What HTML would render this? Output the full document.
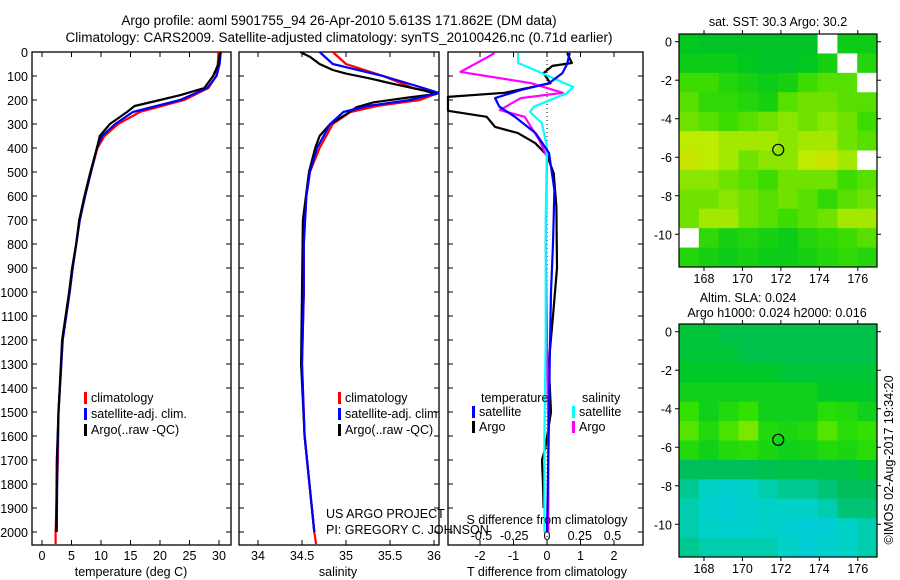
<!DOCTYPE html>
<html><head><meta charset="utf-8">
<style>
html,body{margin:0;padding:0;background:#fff;}
svg{display:block;font-family:"Liberation Sans",sans-serif;}
</style></head>
<body>
<svg id="fig" width="900" height="580" viewBox="0 0 900 580" xmlns="http://www.w3.org/2000/svg">
<text x="339" y="25" font-size="13.5" text-anchor="middle">Argo profile: aoml 5901755_94 26-Apr-2010 5.613S 171.862E (DM data)</text>
<text x="339" y="42" font-size="13.5" text-anchor="middle">Climatology: CARS2009. Satellite-adjusted climatology: synTS_20100426.nc (0.71d earlier)</text>
<g id="g"></g>
</svg>
<script>
// ---------- data ----------
const depthTicks = [0,100,200,300,400,500,600,700,800,900,1000,1100,1200,1300,1400,1500,1600,1700,1800,1900,2000];
const tempTicks = [0,5,10,15,20,25,30];
const salTicks = [34,34.5,35,35.5,36];
const tdiffTicks = [-2,-1,0,1,2];
const sdiffTicks = [-0.5,-0.25,0,0.25,0.5];
const sdiffLabels = ["-0.5","-0.25","0","0.25","0.5"];

const tClimDepth = [0,50,100,150,200,250,300,350,400,500,600,700,800,900,1000,1200,1500,1700,2000,2050];
const tClim = [29.9,29.8,29.5,28.2,24.1,16.6,12.9,10.6,9.4,8.3,7.3,6.4,5.8,5.2,4.7,3.5,2.8,2.7,2.3,2.3];
const tSatDepth = [0,50,100,150,200,250,300,350,400,500,600,700,800,900,1000,1200,1500,1700,2000];
const tSat = [30.3,30.1,29.6,28.0,23.4,15.4,12.4,10.2,9.3,8.3,7.3,6.4,5.8,5.2,4.7,3.5,2.8,2.6,2.5];
const tArgoDepth = [0,50,100,150,180,200,225,250,300,350,400,500,600,700,800,900,1000,1200,1500,1700,2000];
const tArgo = [30.2,29.9,29.0,27.5,23.4,20.0,15.7,14.4,11.5,9.8,9.3,8.2,7.2,6.3,5.8,5.1,4.6,3.4,2.8,2.5,2.4];

const sClimDepth = [0,50,100,120,150,170,200,225,250,300,400,500,600,800,1000,1300,1600,2000,2050];
const sClim = [34.85,35.0,35.42,35.56,35.76,36.05,35.84,35.35,35.05,34.85,34.70,34.59,34.55,34.52,34.52,34.50,34.53,34.64,34.66];
const sSatDepth = [0,50,100,150,170,200,225,250,300,400,500,600,800,1000,1300,1600,2000];
const sSat = [34.70,34.85,35.42,35.88,36.05,35.73,35.24,34.97,34.82,34.67,34.59,34.55,34.52,34.52,34.50,34.53,34.64];
const sArgoDepth = [0,20,50,75,90,110,130,160,175,190,210,230,260,300,350,400,500,700,1000,1300,1600,2000];
const sArgo = [34.48,34.59,34.70,34.85,35.0,35.27,35.5,35.88,36.03,35.70,35.31,35.12,35.0,34.82,34.70,34.65,34.58,34.51,34.50,34.49,34.53,34.64];

const dTSatDepth = [4,50,88,130,158,192,228,270,338,421,575,800,1000,1300,1600,2000];
const dTSat = [0.68,0.6,0.46,0.06,-0.77,-1.55,-1.42,-0.96,-0.34,0.06,0.22,0.18,0.12,0.08,0.05,0.0];
const dTArgoDepth = [4,46,58,88,130,170,187,245,270,312,338,380,430,505,645,900,1100,1300,1500,1650,1700,1800,1900];
const dTArgo = [0.6,0.74,0.16,-0.1,0.1,-1.27,-3.0,-3.0,-1.8,-1.55,-0.87,-0.35,0.0,0.2,0.28,0.3,0.18,0.05,0.12,-0.05,-0.15,-0.12,-0.1];
const dSSatDepth = [4,46,83,146,172,228,250,296,395,700,1200,1600,2000];
const dSSat = [-0.22,-0.22,-0.06,0.2,0.15,-0.1,-0.13,-0.04,0.0,-0.01,-0.01,-0.02,-0.02];
const dSArgoDepth = [4,20,83,130,170,192,242,270,366,437,800,1200,1600,2000];
const dSArgo = [-0.4,-0.45,-0.66,-0.12,0.12,-0.2,-0.36,-0.17,-0.06,0.0,-0.01,0.0,0.01,0.01];

const lonTicks = [168,170,172,174,176];
const latTicks = [0,-2,-4,-6,-8,-10];
// map grids: 12 rows (lat 0.4 -> -11.7) x 10 cols (lon 166.7 -> 177); null = no data
const sstGrid = [
 [0.25,0.2,0.2,0.2,0.2,0.2,0.2,null,0.3,0.3],
 [0.3,0.3,0.3,0.25,0.2,0.2,0.25,0.35,null,0.4],
 [0.5,0.5,0.4,0.35,0.3,0.35,0.5,0.55,0.55,null],
 [0.55,0.45,0.45,0.4,0.35,0.55,0.6,0.6,0.55,0.55],
 [0.6,0.55,0.5,0.55,0.6,0.65,0.6,0.65,0.6,0.5],
 [0.75,0.75,0.7,0.7,0.7,0.65,0.7,0.7,0.6,0.55],
 [0.8,0.75,0.7,0.6,0.65,0.65,0.75,0.8,0.7,null],
 [0.65,0.65,0.6,0.55,0.5,0.6,0.6,0.6,0.5,0.55],
 [0.6,0.6,0.65,0.6,0.55,0.6,0.55,0.45,0.55,0.6],
 [0.6,0.7,0.7,0.6,0.55,0.5,0.55,0.6,0.7,0.7],
 [null,0.45,0.35,0.4,0.35,0.3,0.4,0.45,0.5,0.55],
 [0.4,0.35,0.3,0.35,0.3,0.3,0.35,0.4,0.45,0.4]
];
const slaGrid = [
 [0.55,0.55,0.5,0.5,0.5,0.5,0.5,0.5,0.5,0.5],
 [0.55,0.55,0.55,0.5,0.5,0.5,0.5,0.5,0.5,0.5],
 [0.6,0.6,0.6,0.6,0.6,0.55,0.55,0.55,0.55,0.55],
 [0.65,0.65,0.65,0.65,0.65,0.65,0.65,0.6,0.6,0.6],
 [0.75,0.65,0.7,0.75,0.65,0.65,0.65,0.72,0.7,0.65],
 [0.82,0.7,0.8,0.9,0.7,0.68,0.7,0.82,0.72,0.75],
 [0.7,0.65,0.7,0.72,0.68,0.65,0.66,0.7,0.68,0.72],
 [0.45,0.45,0.45,0.45,0.48,0.5,0.5,0.5,0.5,0.55],
 [0.35,0.25,0.2,0.25,0.3,0.35,0.35,0.4,0.45,0.45],
 [0.3,0.2,0.15,0.2,0.25,0.25,0.25,0.3,0.4,0.4],
 [0.3,0.25,0.2,0.2,0.25,0.2,0.12,0.15,0.25,0.3],
 [0.35,0.3,0.3,0.3,0.3,0.25,0.15,0.2,0.25,0.3]
];
const argoLon = [171.862];
const argoLat = [-5.613];

// ---------- helpers ----------
const NS='http://www.w3.org/2000/svg';
const G=document.getElementById('g');
function mk(tag,attrs,parent){const e=document.createElementNS(NS,tag);for(const k in attrs)e.setAttribute(k,attrs[k]);(parent||G).appendChild(e);return e;}
function txt(x,y,s,size,anchor,parent){const t=mk('text',{x:x,y:y,'font-size':size||12.5,'text-anchor':anchor||'middle'},parent);t.textContent=s;return t;}

const Y0=52, PY=0.24, PB=545;
const yD = d => Y0 + PY*d;
const xT = t => 42 + 5.9*t;
const xS = s => 258 + 88*(s-34);
const xDT = t => 547 + 33.5*t;
const xDS = s => 547 + 131*s;

function panel(name,x0,x1){
  const r=mk('rect',{x:x0,y:Y0,width:x1-x0,height:PB-Y0,fill:'none',stroke:'#000','stroke-width':1.3});
  
  
  depthTicks.forEach(d=>{
    mk('line',{x1:x0,x2:x0+5,y1:yD(d),y2:yD(d),stroke:'#000'});
    mk('line',{x1:x1-5,x2:x1,y1:yD(d),y2:yD(d),stroke:'#000'});
  });
}
function xticks(vals,fx,labels,ly,name){
  vals.forEach((v,i)=>{
    const x=fx(v);
    mk('line',{x1:x,x2:x,y1:PB,y2:PB-5,stroke:'#000'});
    mk('line',{x1:x,x2:x,y1:Y0,y2:Y0+5,stroke:'#000'});
    const t=txt(x,ly,labels?labels[i]:String(v),12.5);
    
    
  });
}
function line(ds,vs,fx,color,name,w){
  const clipX0 = name.indexOf('diff')>=0 ? 448 : 0;
  const pts=ds.map((d,i)=>Math.max(clipX0,fx(vs[i])).toFixed(1)+','+yD(d).toFixed(1)).join(' ');
  const p=mk('polyline',{points:pts,fill:'none',stroke:color,'stroke-width':w||2.2,'stroke-linejoin':'round'});
  
  
}
function legend(x,y,color,label,name){
  mk('rect',{x:x,y:y-10,width:3,height:12,fill:color});
  const t=txt(x+7,y,label,12.5,'start');
  
  
}

// depth labels
depthTicks.forEach(d=>{
  const t=txt(28,yD(d)+5,String(d),12.5,'end');
  
  
});

// Panel 1 temperature
panel('temperature-panel',32,231);
xticks(tempTicks,xT,null,560,'temperature-tick-label');
line(tClimDepth,tClim,xT,'#ff0000','temp-climatology-line');
line(tSatDepth,tSat,xT,'#0000ff','temp-satellite-line');
line(tArgoDepth,tArgo,xT,'#000000','temp-argo-line');
legend(84,402,'#ff0000','climatology','legend-climatology');
legend(84,418,'#0000ff','satellite-adj. clim.','legend-satellite');
legend(84,434,'#000000','Argo(..raw -QC)','legend-argo');
let t=txt(131,576,'temperature (deg C)',12.5);



// Panel 2 salinity
panel('salinity-panel',239,439);
xticks(salTicks,xS,null,560,'salinity-tick-label');
line(sClimDepth,sClim,xS,'#ff0000','sal-climatology-line');
line(sArgoDepth,sArgo,xS,'#000000','sal-argo-line');
line(sSatDepth,sSat,xS,'#0000ff','sal-satellite-line');
legend(338,402,'#ff0000','climatology','legend-climatology-2');
legend(338,418,'#0000ff','satellite-adj. clim.','legend-satellite-2');
legend(338,434,'#000000','Argo(..raw -QC)','legend-argo-2');
t=txt(338,576,'salinity',12.5);


t=txt(326,518,'US ARGO PROJECT',12.5,'start');


t=txt(326,534,'PI: GREGORY C. JOHNSON',12.5,'start');



// Panel 3 differences
panel('difference-panel',448,643);
mk('line',{x1:xDT(0),x2:xDT(0),y1:Y0,y2:PB,stroke:'#000','stroke-dasharray':'1,3'});
xticks(tdiffTicks,xDT,null,560,'tdiff-tick-label');
sdiffTicks.forEach((v,i)=>{
  const tt=txt(xDS(v),540,sdiffLabels[i],12.5);
  
  
});
line(dTArgoDepth,dTArgo,xDT,'#000000','tdiff-argo-line');
line(dSArgoDepth,dSArgo,xDS,'#ff00ff','sdiff-argo-line');
line(dSSatDepth,dSSat,xDS,'#00ffff','sdiff-satellite-line');
line(dTSatDepth,dTSat,xDT,'#0000ff','tdiff-satellite-line');
t=txt(481,402,'temperature',12.5,'start');


t=txt(582,402,'salinity',12.5,'start');


legend(472,416,'#0000ff','satellite','legend-tdiff-satellite');
legend(472,431,'#000000','Argo','legend-tdiff-argo');
legend(572,416,'#00ffff','satellite','legend-sdiff-satellite');
legend(572,431,'#ff00ff','Argo','legend-sdiff-argo');
t=txt(547,524,'S difference from climatology',12.5);


t=txt(547,576,'T difference from climatology',12.5);



// ---------- maps ----------
function lerp(a,b,f){return a.map((v,i)=>Math.round(v+(b[i]-v)*f));}
function cmap(stops,v){
  for(let i=0;i<stops.length-1;i++){
    if(v<=stops[i+1][0]){const f=(v-stops[i][0])/(stops[i+1][0]-stops[i][0]);const c=lerp(stops[i][1],stops[i+1][1],f);return 'rgb('+c.join(',')+')';}
  }
  return 'rgb('+stops[stops.length-1][1].join(',')+')';
}
const sstStops=[[0,[0,176,80]],[0.25,[0,200,30]],[0.5,[60,220,0]],[0.75,[190,235,0]],[1,[240,200,0]]];
const slaStops=[[0,[0,200,230]],[0.25,[0,210,200]],[0.45,[0,190,90]],[0.6,[0,200,40]],[0.75,[50,225,0]],[1,[170,235,0]]];

function drawMap(name,grid,stops,top,bottom,titleLines){
  const L=679,R=877;
  const lonX=lon=>L+(lon-166.7)*(R-L)/(177-166.7);
  const latY=lat=>top+(0.4-lat)*(bottom-top)/(12.1);
  const g=mk('g',{});
  
  
  const rows=grid.length, cols=grid[0].length;
  const cw=(R-L)/cols, ch=(bottom-top)/rows;
  grid.forEach((row,r)=>row.forEach((v,c)=>{
    const cell=mk('rect',{x:(L+c*cw).toFixed(2),y:(top+r*ch).toFixed(2),width:(cw+0.5).toFixed(2),height:(ch+0.5).toFixed(2),fill:v===null?'#ffffff':cmap(stops,v)},g);
    
    
  }));
  mk('rect',{x:L,y:top,width:R-L,height:bottom-top,fill:'none',stroke:'#000','stroke-width':1.2},g);
  lonTicks.forEach(lon=>{
    const x=lonX(lon);
    mk('line',{x1:x,x2:x,y1:top-4,y2:top,stroke:'#000'},g);
    mk('line',{x1:x,x2:x,y1:bottom,y2:bottom+4,stroke:'#000'},g);
    const tt=txt(x,bottom+16,String(lon),12.5,'middle',g);
    
    
  });
  latTicks.forEach(lat=>{
    const y=latY(lat);
    mk('line',{x1:L-4,x2:L,y1:y,y2:y,stroke:'#000'},g);
    mk('line',{x1:R,x2:R+4,y1:y,y2:y,stroke:'#000'},g);
    const tt=txt(L-7,y+5,String(lat),12.5,'end',g);
    
    
  });
  argoLon.forEach((lon,i)=>{
    const c=mk('circle',{cx:lonX(lon),cy:latY(argoLat[i]),r:5.5,fill:'none',stroke:'#000','stroke-width':1.2},g);
    
    
  });
  titleLines.forEach(tl=>{
    const tt=txt(tl[0],tl[1],tl[2],12.5,'middle',g);
    
    
  });
}
drawMap('sst-map',sstGrid,sstStops,34,267,[[778,26,'sat. SST: 30.3 Argo: 30.2']]);
drawMap('sla-map',slaGrid,slaStops,324,557,[[748,302,'Altim. SLA: 0.024'],[777,317,'Argo h1000: 0.024 h2000: 0.016']]);

t=txt(0,0,'\u00A9IMOS 02-Aug-2017 19:34:20',12.5);
t.setAttribute('transform','translate(893,460) rotate(-90)');


</script>
</body></html>
